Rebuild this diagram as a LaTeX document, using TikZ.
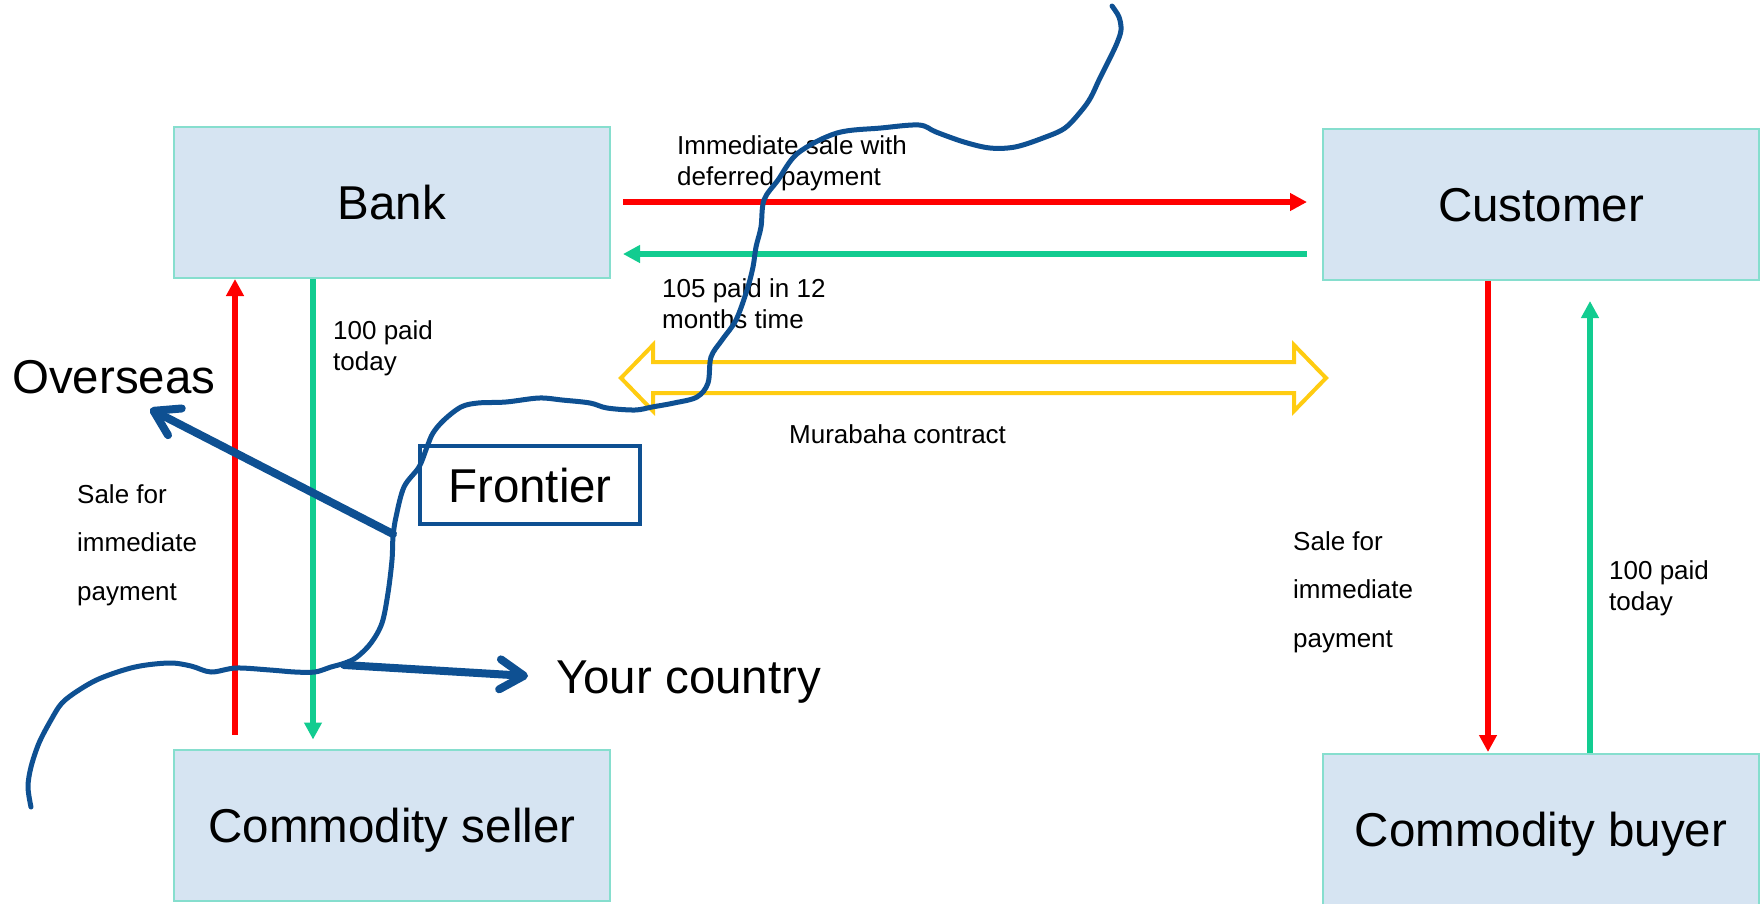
\documentclass[tikz,border=0pt]{standalone}
\usepackage{fontspec}
\setmainfont{Liberation Sans}
\usetikzlibrary{arrows.meta}
\definecolor{boxfill}{RGB}{214,228,242}
\definecolor{boxline}{RGB}{134,222,206}
\definecolor{myred}{RGB}{255,0,0}
\definecolor{mygreen}{RGB}{18,204,144}
\definecolor{myyellow}{RGB}{255,204,17}
\definecolor{myblue}{RGB}{14,80,146}
\begin{document}
\begin{tikzpicture}[x=1pt,y=-1pt,
  partybox/.style={draw=boxline, line width=2pt, fill=boxfill, minimum width=436pt,
    minimum height=151pt, inner sep=0pt, text depth=0pt, font=\fontsize{47.5}{57}\selectfont},
  biglabel/.style={inner sep=0pt, anchor=base west, font=\fontsize{47.5}{57}\selectfont},
  smalllabel/.style={inner sep=0pt, anchor=base west, align=left, font=\fontsize{26}{31}\selectfont},
  widelabel/.style={inner sep=0pt, anchor=base west, align=left, font=\fontsize{26}{48.5}\selectfont},
  redflow/.style={draw=myred, line width=5.5pt, -{Triangle[length=17pt,width=17pt]}},
  greenflow/.style={draw=mygreen, line width=5.5pt, -{Triangle[length=17pt,width=17pt]}},
  bluearrow/.style={draw=myblue, line width=8pt, line cap=round, line join=round,
    -{Straight Barb[length=24pt,width=30pt,round]}},
  contract/.style={draw=myyellow, line width=4pt, line join=miter},
  frontierline/.style={draw=myblue, line width=5pt, line cap=round, line join=round}
]
\useasboundingbox (0,0) rectangle (1762,903);
\fill[white] (0,0) rectangle (1762,903);

% boxes
\node[partybox] (bank) at (392,202.5) {Bank};
\node[partybox] (customer) at (1541,204.5) {Customer};
\node[partybox] (seller) at (392,825) {Commodity seller};
\node[partybox] (buyer) at (1541,829.5) {Commodity buyer};

% flows between bank and customer
\draw[redflow, shorten <=12pt, shorten >=15pt] (bank.east |- 0,202) -- (customer.west |- 0,202);
\draw[greenflow, shorten <=15pt, shorten >=12pt] (customer.west |- 0,254) -- (bank.east |- 0,254);

% flows bank / seller
\draw[redflow, shorten <=14pt] (235,0 |- seller.north) -- (235,0 |- bank.south);
\draw[greenflow, shorten >=9pt] (313,0 |- bank.south) -- (313,0 |- seller.north);

% flows customer / buyer
\draw[redflow, shorten >=1pt] (1488,0 |- customer.south) -- (1488,0 |- buyer.north);
\draw[greenflow, shorten >=20pt] (1590,0 |- buyer.north) -- (1590,0 |- customer.south);

% Murabaha double arrow
\draw[contract] (621,378) -- (653,345) -- (653,362) -- (1294,362) -- (1294,345)
  -- (1326,378) -- (1294,411) -- (1294,393) -- (653,393) -- (653,411) -- cycle;

% labels (base = baseline of the last line)
\node[smalllabel] (l1) at (677,185) {Immediate sale with\\deferred payment};
\node[smalllabel] (l2) at (662,328) {105 paid in 12\\months time};
\node[smalllabel] (l3) at (333,370) {100 paid\\today};
\node[smalllabel] (l4) at (789,443) {Murabaha contract};
\node[widelabel] (l5) at (77,600) {Sale for\\immediate\\payment};
\node[widelabel] (l6) at (1293,647) {Sale for\\immediate\\payment};
\node[smalllabel] (l7) at (1609,610) {100 paid\\today};

\node[biglabel] (overseas) at (12,393) {Overseas};
\node[biglabel] (country) at (556,693) {Your country};
\node[draw=myblue, line width=4pt, minimum width=220pt, minimum height=78pt, inner sep=0pt,
  text depth=0pt, font=\fontsize{47.5}{57}\selectfont] (frontier) at (530,485) {Frontier};

% frontier line
\draw[frontierline] plot[smooth, tension=0.55] coordinates {
 (31,807) (28,787) (31,767) (39,743) (51,720) (62,703) (79,690) (101,678) (135,667)
 (169,663) (191,666) (211,672) (236,668) (270,670) (295,672) (315,672) (331,667)
 (345,663) (357,657) (371,643) (382,623) (388,593) (392,560) (393,537) (396,517)
 (404,487) (419,467) (427,447) (433,433) (444,420) (461,407) (478,403) (506,402)
 (539,398) (562,400) (590,403) (607,408) (635,410) (652,407) (674,403) (697,397)
 (708,383) (711,357) (722,340) (736,320) (747,290) (753,267) (756,247) (761,227)
 (764,200) (778,180) (798,153) (837,133) (881,128) (919,125) (936,132) (964,142)
 (990,148) (1015,147) (1043,138) (1065,128) (1082,110) (1091,97) (1099,80)
 (1110,58) (1117,43) (1121,30) (1119,17) (1112,6)};

\coordinate (fromfr) at (393,534);
\coordinate (ovtip) at (150,409);
\coordinate (fromfr2) at (344,665);
\coordinate (cttip) at (528,676);
\draw[bluearrow] (fromfr) -- (ovtip);
\draw[bluearrow] (fromfr2) -- (cttip);
\end{tikzpicture}
\end{document}
